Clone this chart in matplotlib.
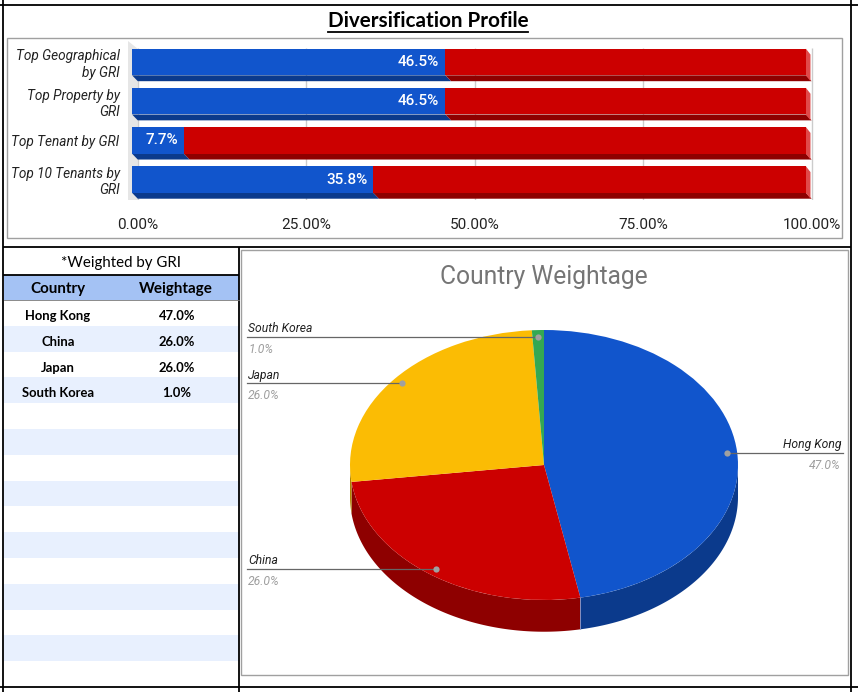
import matplotlib
matplotlib.use("Agg")
import matplotlib.pyplot as plt
import numpy as np
from matplotlib.patches import Rectangle, Polygon

W, H = 858, 692

# bar chart data
bar_labels = ["Top Geographical\nby GRI", "Top Property by\nGRI", "Top Tenant by GRI", "Top 10 Tenants by\nGRI"]
top_share = [46.5, 46.5, 7.7, 35.8]
rest_share = [53.5, 53.5, 92.3, 64.2]
tick_vals = [0, 25, 50, 75, 100]
tick_text = ["0.00%", "25.00%", "50.00%", "75.00%", "100.00%"]

# country data
countries = ["Hong Kong", "China", "Japan", "South Korea"]
weights = [47.0, 26.0, 26.0, 1.0]
weight_text = ["47.0%", "26.0%", "26.0%", "1.0%"]

pie_colors = ["#1155cc", "#cc0000", "#fbbc04", "#34a853"]
side_colors = ["#0b3a8c", "#8e0000", "#b08400", "#23773a"]
table_rows = 15

BLUE, RED = "#1155cc", "#cc0000"
DBLUE, DRED, LRED = "#0b3a8c", "#8e0000", "#e04a4a"

fig = plt.figure(figsize=(W / 100, H / 100), dpi=100)


def px_axes(l, t, r, b, **kw):
    return fig.add_axes([l / W, 1 - b / H, (r - l) / W, (b - t) / H], **kw)


# background axes in pixel coordinates for frame lines and table
bg = fig.add_axes([0, 0, 1, 1])
bg.set_xlim(0, W)
bg.set_ylim(H, 0)
bg.axis("off")

k = dict(color="black", lw=1.3, solid_capstyle="butt")
bg.plot([0, W], [5, 5], **k)
bg.plot([3, 3], [0, H], **k)
bg.plot([851, 851], [0, H], **k)
bg.plot([3, 851], [247, 247], **k)
bg.plot([3, 239], [275, 275], **k)
bg.plot([239, 239], [247, H], **k)
bg.plot([0, W], [687, 687], **k)

bg.add_patch(Rectangle((7, 38), 835, 200, fill=False, ec="#a0a0a0", lw=1))
bg.add_patch(Rectangle((241, 250), 607, 425, fill=False, ec="#a0a0a0", lw=1))

# table
row_h = (687 - 300) / table_rows
bg.add_patch(Rectangle((4, 275), 235, 25, fc="#a4c2f4", ec="none"))
bg.plot([4, 239], [300, 300], color="#777777", lw=0.6)
for i in range(table_rows):
    if i % 2 == 1:
        bg.add_patch(Rectangle((4, 300 + i * row_h), 235, row_h, fc="#e8f0fe", ec="none"))

tfont = dict(family="Lato")
bg.text(121, 263, "*Weighted by GRI", ha="center", va="center", fontsize=10.8, **tfont)
bg.text(58, 289, "Country", ha="center", va="center", fontsize=10.9, fontweight="bold", **tfont)
bg.text(176, 289, "Weightage", ha="center", va="center", fontsize=10.9, fontweight="bold", **tfont)
for i, (c, wt) in enumerate(zip(countries, weight_text)):
    y = 300 + (i + 0.5) * row_h + 3
    bg.text(58, y, c, ha="center", va="center", fontsize=9.4, fontweight="bold", **tfont)
    bg.text(177, y, wt, ha="center", va="center", fontsize=9.4, fontweight="bold", **tfont)

# title with underline
title = bg.text(428, 21, "Diversification Profile", ha="center", va="center",
                fontsize=14.9, fontweight="bold", family="Lato")

# ---------------- bar chart ----------------
ax = px_axes(128, 41, 816, 200)
ax.patch.set_alpha(0)
ax.set_xlim(-0.6, 101.5)
ax.set_ylim(3.523, -0.536)
for s in ax.spines.values():
    s.set_visible(False)

dx, dy = 0.85, 0.15
h = 0.68
ypos = np.arange(len(bar_labels))

# back wall and grid
ax.add_patch(Polygon([(-0.6, -0.536), (dx, -0.536 + 0.2), (dx, 3.523), (-0.6, 3.523)],
                     closed=True, fc="#e6e6e6", ec="none", zorder=0))
ax.vlines(np.array(tick_vals) + dx, -0.357, 3.523, color="#cccccc", lw=1, zorder=0.5)

for i, (a, b) in enumerate(zip(top_share, rest_share)):
    yb = i + h / 2
    for x0, x1, col in [(0, a, DBLUE), (a, a + b, DRED)]:
        ax.add_patch(Polygon([(x0, yb), (x1, yb), (x1 + dx, yb + dy), (x0 + dx, yb + dy)],
                             closed=True, fc=col, ec="none", zorder=1))
    end = a + b
    ax.add_patch(Polygon([(end, i - h / 2), (end + dx * 0.8, i - h / 2 + dy), (end + dx * 0.8, yb + dy), (end, yb)],
                         closed=True, fc=LRED, ec="none", zorder=1))

ax.barh(ypos, top_share, height=h, color=BLUE, zorder=2)
ax.barh(ypos, rest_share, left=top_share, height=h, color=RED, zorder=2)
for i, a in enumerate(top_share):
    ax.text(a - 0.9, i, f"{a:.1f}%", ha="right", va="center", color="white",
            fontsize=11, fontweight="medium", family="Roboto", zorder=3)

ax.set_xticks(np.array(tick_vals) + dx)
ax.set_xticklabels(tick_text, family="Roboto", fontsize=11, color="#222222")
ax.set_yticks(ypos)
ax.set_yticklabels(bar_labels, family="Roboto", style="italic", fontsize=9.8,
                   color="#222222", linespacing=1.2)
ax.tick_params(axis="x", length=0, pad=13)
ax.tick_params(axis="y", length=0, pad=6)

# ---------------- pie chart ----------------
pa = px_axes(241, 250, 848, 675)
pa.patch.set_alpha(0)
cx, cy, rx, ry = 544, 465, 194, 135
depth = 0.235

wedges, _ = pa.pie(weights, colors=pie_colors, startangle=90, counterclock=False,
                   wedgeprops=dict(linewidth=0))
for wd in wedges:
    wd.set_zorder(2)
pa.set_aspect("auto")
pa.set_xlim((241 - cx) / rx, (848 - cx) / rx)
pa.set_ylim((cy - 675) / ry, (cy - 250) / ry)
pa.axis("off")

total = sum(weights)
cum = np.concatenate([[0], np.cumsum(weights)])
for i in range(len(weights)):
    ta = 90 - 360 * cum[i] / total
    tb = 90 - 360 * cum[i + 1] / total
    t = np.radians(np.linspace(tb, ta, 300))
    t = t[np.sin(t) <= 0]
    if len(t) < 2:
        continue
    xs, ys = np.cos(t), np.sin(t)
    pts = np.column_stack([np.concatenate([xs, xs[::-1]]),
                           np.concatenate([ys, ys[::-1] - depth])])
    pa.add_patch(Polygon(pts, closed=True, fc=side_colors[i], ec="none", zorder=1))

# boundary line on the side where Hong Kong meets China
tbnd = np.radians(90 - 360 * cum[1] / total)
pa.plot([np.cos(tbnd)] * 2, [np.sin(tbnd), np.sin(tbnd) - depth], color="#8899cc", lw=0.6, zorder=1.5)

pa.text(0, (cy - 277) / ry, "Country Weightage", ha="center", va="center",
        fontsize=17.7, color="#757575", family="Roboto")

left_x, right_x = (247 - cx) / rx, (843 - cx) / rx
for i, name in enumerate(countries):
    tm = np.radians(90 - 360 * (cum[i] + weights[i] / 2) / total)
    px, py = 0.95 * np.cos(tm), 0.95 * np.sin(tm)
    if np.cos(tm) < 0:
        edge, ha = left_x, "left"
    else:
        edge, ha = right_x, "right"
    pa.plot([px, edge], [py, py], color="#666666", lw=0.9, zorder=3)
    pa.plot(px, py, "o", ms=4.5, color="#a0a0a0", mec="none", zorder=4)
    tx = edge + (0.006 if ha == "left" else -0.01)
    pa.text(tx, py + 0.012, name, ha=ha, va="bottom", fontsize=8.7, style="italic",
            family="Roboto", color="#222222", zorder=4)
    pa.text(tx, py - 0.045, weight_text[i], ha=ha, va="top", fontsize=8.7, style="italic",
            family="Roboto", color="#9e9e9e", zorder=4)

# underline the title
fig.canvas.draw()
bb = title.get_window_extent(fig.canvas.get_renderer())
bg.plot([bb.x0, bb.x1], [H - bb.y0 + 1, H - bb.y0 + 1], color="black", lw=1.3)

fig.savefig("out.png", dpi=100)
